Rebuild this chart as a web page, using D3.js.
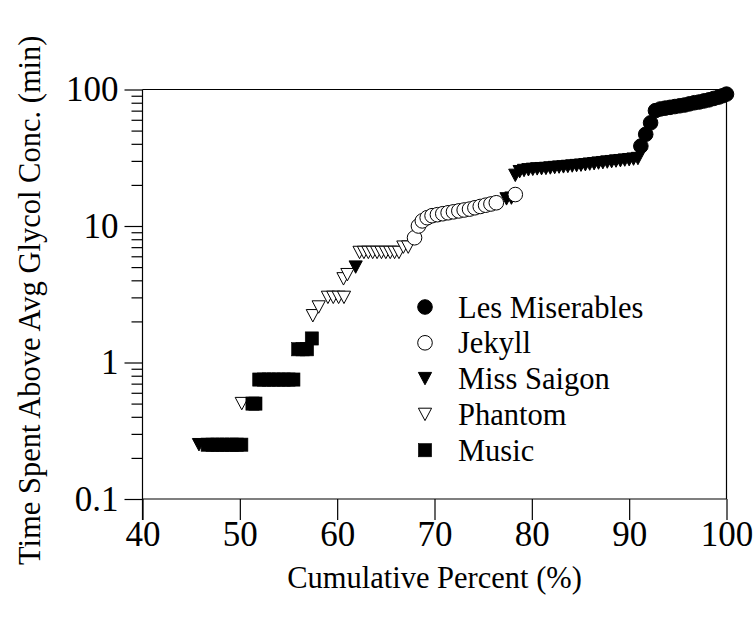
<!DOCTYPE html>
<html><head><meta charset="utf-8">
<script src="https://cdn.jsdelivr.net/npm/d3@7/dist/d3.min.js"></script>
<style>body{margin:0;background:#fff}svg{display:block}</style>
</head><body>
<svg id="c" width="753" height="621"></svg>
<script>
// ---- data ----
const lesMisX = [91.2, 91.7, 92.2, 92.7, 93.2, 93.7, 94.2, 94.7, 95.2, 95.7, 96.2, 96.7, 97.2, 97.7, 98.2, 98.7, 99.2, 99.6, 100];
const lesMisY = [38.5, 47, 57, 70, 72, 73, 74, 75, 76, 77, 78.5, 80, 81, 82.5, 84, 86, 88, 90, 92.5];
const jekyllX = [67.95, 68.35, 68.75, 69.25, 69.75, 70.3, 70.85, 71.4, 71.95, 72.5, 73.05, 73.6, 74.15, 74.7, 75.25, 75.8, 76.35, 78.3];
const jekyllY = [8.2, 10.0, 10.9, 11.5, 11.9, 12.1, 12.3, 12.5, 12.7, 12.9, 13.1, 13.3, 13.6, 13.9, 14.2, 14.5, 14.8, 17.0];
const saigonX = [45.8, 61.9, 77.4, 77.9, 78.3, 78.75, 79.2, 79.65, 80.1, 80.55, 81.0, 81.45, 81.9, 82.35, 82.8, 83.25, 83.7, 84.15, 84.6, 85.05, 85.5, 85.95, 86.4, 86.85, 87.3, 87.75, 88.2, 88.65, 89.1, 89.55, 90.0, 90.45, 90.9];
const saigonY = [0.25, 5.0, 15.8, 16.0, 23.5, 25.0, 25.5, 25.8, 26.0, 26.2, 26.3, 26.4, 26.6, 26.8, 27.0, 27.1, 27.3, 27.5, 27.7, 27.9, 28.1, 28.4, 28.6, 28.9, 29.1, 29.4, 29.6, 29.9, 30.1, 30.4, 30.6, 30.9, 31.2];
const phantomX = [50.2, 57.5, 58.1, 59.05, 59.6, 60.15, 60.7, 60.65, 61.05, 62.3, 62.75, 63.2, 63.65, 64.1, 64.55, 65.0, 65.45, 65.9, 66.35, 66.8, 67.3];
const phantomY = [0.5, 2.2, 2.55, 3.0, 3.0, 3.0, 3.0, 4.1, 4.4, 6.4, 6.4, 6.4, 6.4, 6.4, 6.4, 6.4, 6.4, 6.4, 6.4, 7.0, 7.0];
const musicX = [46.7, 47.2, 47.7, 48.2, 48.7, 49.2, 49.7, 50.15, 51.3, 51.6, 52.0, 52.5, 53.0, 53.5, 54.0, 54.5, 55.0, 55.5, 56.0, 56.45, 56.9, 57.4];
const musicY = [0.25, 0.25, 0.25, 0.25, 0.25, 0.25, 0.25, 0.25, 0.5, 0.5, 0.75, 0.75, 0.75, 0.75, 0.75, 0.75, 0.75, 0.75, 1.25, 1.25, 1.25, 1.5];
const xTicks = [40, 50, 60, 70, 80, 90, 100];
const yTicks = [0.1, 1, 10, 100];
const yTickLabels = ["0.1", "1", "10", "100"];
const seriesNames = ["Les Miserables", "Jekyll", "Miss Saigon", "Phantom", "Music"];

// ---- drawing ----
const svg = d3.select("#c");
const font = "'Liberation Serif','Times New Roman',serif";
const tickFont = 35, titleFont = 30.5, legendFont = 30.5;
const x = d3.scaleLinear().domain([40, 100]).range([142.5, 726.5]);
const y = d3.scaleLog().domain([0.1, 100]).range([499, 89.5]);

const styles = {
  "Les Miserables": {shape: "circle", fill: "#000"},
  "Jekyll": {shape: "circle", fill: "#fff"},
  "Miss Saigon": {shape: "tri", fill: "#000"},
  "Phantom": {shape: "tri", fill: "#fff"},
  "Music": {shape: "square", fill: "#000"}
};
function marker(g, name, cx, cy) {
  const s = styles[name];
  if (s.shape === "circle") {
    g.append("circle").attr("cx", cx).attr("cy", cy).attr("r", 7.3)
      .attr("fill", s.fill).attr("stroke", "#000").attr("stroke-width", 1);
  } else if (s.shape === "square") {
    g.append("rect").attr("x", cx - 6.6).attr("y", cy - 6.6).attr("width", 13.2).attr("height", 13.2)
      .attr("fill", s.fill).attr("stroke", "#000").attr("stroke-width", 0.6);
  } else {
    const w = 6.6, h = 6.2;
    g.append("path").attr("d", `M${cx - w},${cy - h}L${cx + w},${cy - h}L${cx},${cy + h}Z`)
      .attr("fill", s.fill).attr("stroke", "#000").attr("stroke-width", 1);
  }
}

// frame
const ax = svg.append("g").attr("stroke", "#000").attr("stroke-width", 1.2).attr("fill", "none");
ax.append("line").attr("x1", x(40)).attr("x2", x(100)).attr("y1", y(100)).attr("y2", y(100));
ax.append("line").attr("x1", x(100)).attr("x2", x(100)).attr("y1", y(100)).attr("y2", y(0.1));

// x axis
const xAxis = d3.axisBottom(x).tickValues(xTicks).tickSize(21).tickPadding(1).tickFormat(d3.format("d"));
const gx = svg.append("g").attr("transform", `translate(0,${y(0.1)})`).call(xAxis);
gx.select(".domain").attr("d", `M${x(40)},0H${x(100)}`).attr("stroke-width", 1.2);
gx.selectAll(".tick line").attr("stroke-width", 1.2);
gx.selectAll("text").attr("font-family", font).attr("font-size", tickFont).attr("fill", "#000");

// y axis major + minor
const minor = [];
[0.1, 1, 10].forEach(d => { for (let k = 2; k <= 9; k++) minor.push(+(d * k).toPrecision(3)); });
const yAxisMinor = d3.axisLeft(y).tickValues(minor).tickSize(11).tickFormat("");
const gym = svg.append("g").attr("transform", `translate(${x(40)},0)`).call(yAxisMinor);
gym.select(".domain").remove();
gym.selectAll(".tick line").attr("stroke-width", 1.2);
const yAxis = d3.axisLeft(y).tickValues(yTicks).tickSize(18).tickPadding(6).tickFormat((d, i) => yTickLabels[i]);
const gy = svg.append("g").attr("transform", `translate(${x(40)},0)`).call(yAxis);
gy.select(".domain").attr("d", `M0,${y(100)}V${y(0.1) + 21}`).attr("stroke-width", 1.2);
gy.selectAll(".tick line").attr("stroke-width", 1.2);
gy.selectAll("text").attr("font-family", font).attr("font-size", tickFont).attr("fill", "#000");

// data marks
const plot = svg.append("g");
function drawSeries(name, xs, ys) {
  xs.forEach((v, i) => marker(plot, name, x(v), y(ys[i])));
}
drawSeries("Miss Saigon", saigonX, saigonY);
drawSeries("Phantom", phantomX, phantomY);
drawSeries("Music", musicX, musicY);
drawSeries("Jekyll", jekyllX, jekyllY);
drawSeries("Les Miserables", lesMisX, lesMisY);

// legend
const lg = svg.append("g");
seriesNames.forEach((n, i) => {
  const cy = 307 + i * 35.8;
  marker(lg, n, 425, cy);
  lg.append("text").attr("x", 458).attr("y", cy).attr("dy", "0.35em")
    .attr("font-family", font).attr("font-size", legendFont).attr("fill", "#000").text(n);
});

// axis titles
svg.append("text").attr("x", (x(40) + x(100)) / 2).attr("y", 588).attr("text-anchor", "middle")
  .attr("font-family", font).attr("font-size", titleFont).attr("fill", "#000").text("Cumulative Percent (%)");
svg.append("text").attr("transform", `translate(40,${(y(100) + y(0.1)) / 2 + 6}) rotate(-90)`)
  .attr("text-anchor", "middle")
  .attr("font-family", font).attr("font-size", titleFont).attr("fill", "#000")
  .text("Time Spent Above Avg Glycol Conc. (min)");
</script>
</body></html>
